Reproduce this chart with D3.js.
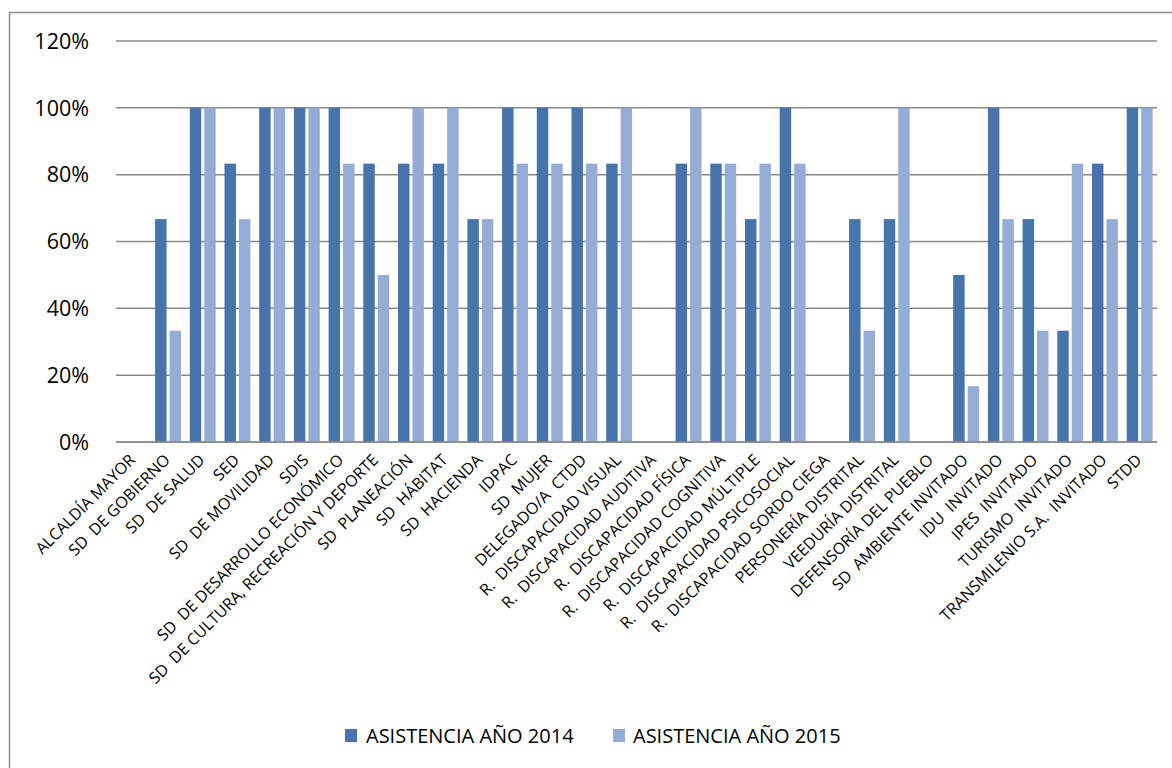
<!DOCTYPE html>
<html>
<head>
<meta charset="utf-8">
<script src="https://cdn.jsdelivr.net/npm/d3@7"></script>
<style>
  html, body { margin: 0; padding: 0; background: #fff; }
  svg { display: block; }
  text { font-family: "Open Sans", "Liberation Sans", sans-serif; fill: #000; }
</style>
</head>
<body>
<svg id="chart" width="1172" height="768"></svg>
<script>
const categories = [
  "ALCALDÍA MAYOR", "SD  DE GOBIERNO", "SD  DE SALUD", "SED", "SD  DE MOVILIDAD", "SDIS",
  "SD  DE DESARROLLO ECONÓMICO", "SD  DE CULTURA, RECREACIÓN Y DEPORTE", "SD  PLANEACIÓN",
  "SD  HÁBITAT", "SD  HACIENDA", "IDPAC", "SD  MUJER", "DELEGADO/A  CTDD",
  "R.  DISCAPACIDAD VISUAL", "R.  DISCAPACIDAD AUDITIVA", "R.  DISCAPACIDAD FÍSICA",
  "R.  DISCAPACIDAD COGNITIVA", "R.  DISCAPACIDAD MÚLTIPLE", "R.  DISCAPACIDAD PSICOSOCIAL",
  "R.  DISCAPACIDAD SORDO CIEGA", "PERSONERÍA DISTRITAL", "VEEDURÍA DISTRITAL",
  "DEFENSORÍA DEL PUEBLO", "SD  AMBIENTE INVITADO", "IDU  INVITADO", "IPES  INVITADO",
  "TURISMO  INVITADO", "TRANSMILENIO S.A.  INVITADO", "STDD"
];
const asistencia2014 = [0, 0.667, 1, 0.833, 1, 1, 1, 0.833, 0.833, 0.833, 0.667, 1, 1, 1, 0.833, 0,
  0.833, 0.833, 0.667, 1, 0, 0.667, 0.667, 0, 0.5, 1, 0.667, 0.333, 0.833, 1];
const asistencia2015 = [0, 0.333, 1, 0.667, 1, 1, 0.833, 0.5, 1, 1, 0.667, 0.833, 0.833, 0.833, 1, 0,
  1, 0.833, 0.833, 0.833, 0, 0.333, 1, 0, 0.167, 0.667, 0.333, 0.833, 0.667, 1];
const seriesNames = ["ASISTENCIA AÑO 2014", "ASISTENCIA AÑO 2015"];
const yTicks = [0, 0.2, 0.4, 0.6, 0.8, 1.0, 1.2];

const colors = ["#4674AB", "#95ADD6"];
const svg = d3.select("#chart");

// outer frame
svg.append("rect").attr("x", 9.5).attr("y", 12.5).attr("width", 1180).attr("height", 780)
  .attr("fill", "none").attr("stroke", "#8c8c8c").attr("stroke-width", 1.5);

const plotLeft = 116, plotRight = 1157, plotTop = 41, plotBottom = 442;
const x = d3.scaleBand().domain(categories).range([plotLeft, plotRight]);
const y = d3.scaleLinear().domain([0, 1.2]).range([plotBottom, plotTop]);

// gridlines
svg.append("g").selectAll("line").data(yTicks).join("line")
  .attr("x1", plotLeft).attr("x2", plotRight)
  .attr("y1", d => y(d)).attr("y2", d => y(d))
  .attr("stroke", "#888").attr("stroke-width", 1.5);

// y labels
svg.append("g").selectAll("text").data(yTicks).join("text")
  .attr("x", 89).attr("y", d => y(d)).attr("dy", "0.36em")
  .attr("text-anchor", "end").attr("font-size", 21.5)
  .text(d => d3.format(".0%")(d));

const bw = x.bandwidth();
const barW = bw * 0.33;
const series = [asistencia2014, asistencia2015];
series.forEach((vals, si) => {
  svg.append("g").selectAll("rect").data(categories).join("rect")
    .attr("x", (d) => x(d) + bw / 2 + (si === 0 ? -1.5 - barW : 1.5))
    .attr("width", barW)
    .attr("y", (d, i) => y(vals[i]))
    .attr("height", (d, i) => plotBottom - y(vals[i]))
    .attr("fill", colors[si]);
});

// baseline again on top
svg.append("line").attr("x1", plotLeft).attr("x2", plotRight).attr("y1", plotBottom).attr("y2", plotBottom)
  .attr("stroke", "#888").attr("stroke-width", 1.5);

// category labels
svg.append("g").selectAll("text").data(categories).join("text")
  .attr("transform", d => `translate(${x(d) + bw / 2 - 1},${plotBottom + 15}) rotate(-45)`)
  .attr("text-anchor", "end").attr("dy", "0.35em").attr("font-size", 16)
  .attr("xml:space", "preserve")
  .style("white-space", "pre")
  .text(d => d);

// legend
const legend = [{x: 345, tx: 366}, {x: 613, tx: 633}];
legend.forEach((l, i) => {
  svg.append("rect").attr("x", l.x).attr("y", 729).attr("width", 12).attr("height", 13).attr("fill", colors[i]);
  svg.append("text").attr("x", l.tx).attr("y", 736).attr("dy", "0.36em").attr("font-size", 20)
    .text(seriesNames[i]);
});
</script>
</body>
</html>
